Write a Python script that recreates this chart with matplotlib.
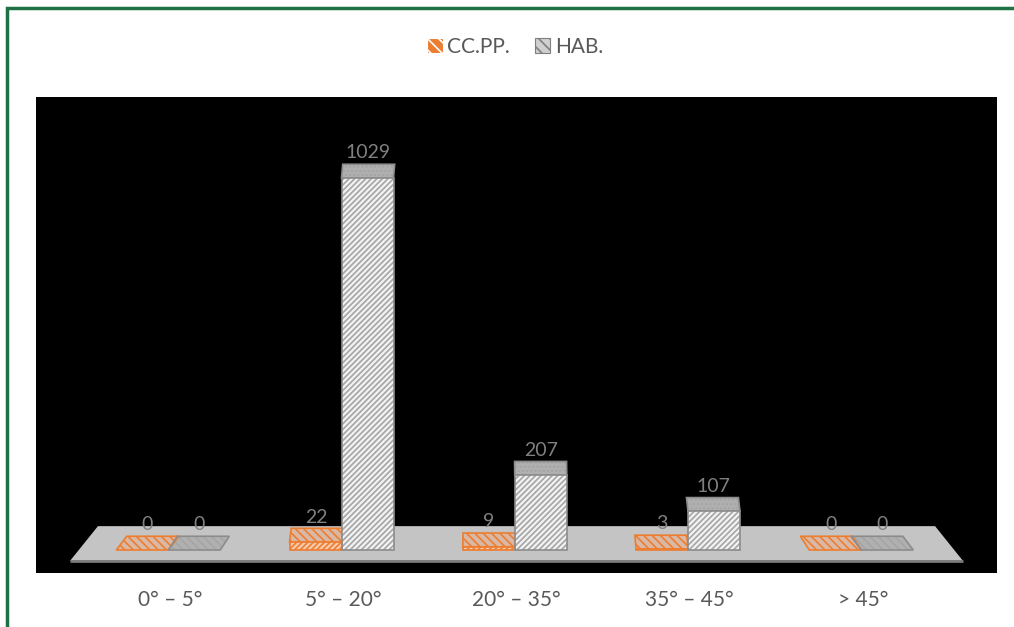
import numpy as np
import matplotlib
matplotlib.use('Agg')
import matplotlib.pyplot as plt
from matplotlib.patches import Polygon, Patch, Rectangle

plt.rcParams['font.family'] = ['Lato', 'DejaVu Sans']
plt.rcParams['hatch.linewidth'] = 1.2

# datos
categorias = ['0° – 5°', '5° – 20°', '20° – 35°', '35° – 45°', '> 45°']
ccpp = [0, 22, 9, 3, 0]
hab = [0, 1029, 207, 107, 0]

naranja = '#ED7D31'
gris = '#A5A5A5'

fig = plt.figure(figsize=(10.14, 6.27), dpi=100)
ax = fig.add_axes([36 / 1014, 1 - 573 / 627, 961 / 1014, 476 / 627])
ax.set_facecolor('black')
ax.set_xlim(-0.7735, 4.7734)
ax.set_ylim(-63.6, 1253)
for s in ax.spines.values():
    s.set_visible(False)
ax.set_yticks([])

# suelo (efecto 3D)
suelo = Polygon([(-0.577, -30), (4.577, -30), (4.416, 66), (-0.416, 66)],
                closed=True, facecolor='#C4C4C4', edgecolor='none', zorder=1)
ax.add_patch(suelo)
ax.plot([-0.577, 4.577], [-30, -30], color='#7a7a7a', lw=2, zorder=1.5,
        solid_capstyle='butt')

ancho = 0.30
prof = 38  # profundidad de la cara superior
x = np.arange(len(categorias))


def barra(x0, v, cara, rayado, borde, tapa, tapa_hatch):
    # desplazamiento de la cara superior por perspectiva
    k = 0.028 if v == 0 else 0.008
    dx = k * (2 - (x0 + ancho / 2))
    pts = [(x0, v), (x0 + ancho, v), (x0 + ancho + dx, v + prof), (x0 + dx, v + prof)]
    ax.add_patch(Polygon(pts, closed=True, facecolor=tapa, edgecolor=rayado, hatch=tapa_hatch,
                         linewidth=0, zorder=2))
    ax.add_patch(Polygon(pts, closed=True, fill=False, edgecolor=borde, linewidth=1.2, zorder=2.1))
    if v > 0:
        ax.bar(x0, v, width=ancho, align='edge', facecolor=cara, edgecolor=rayado,
               hatch='//////', linewidth=0, zorder=3)
        ax.bar(x0, v, width=ancho, align='edge', fill=False, edgecolor=borde,
               linewidth=1.2, zorder=3.1)
    ax.annotate(str(v), (x0 + ancho / 2 + dx / 2, v + prof), xytext=(0, 2),
                textcoords='offset points', ha='center', va='bottom',
                fontsize=14, color='#808080', zorder=5)


for i in range(len(categorias)):
    barra(x[i] - ancho - 0.01, ccpp[i], '#F8CBAD', naranja, naranja, '#D9B9A5', '\\\\\\\\')
    barra(x[i] - 0.01, hab[i], '#F2F2F2', gris, '#8C8C8C', '#B0B0B0',
          '\\\\\\\\' if hab[i] == 0 else '....')

ax.set_xticks(x, categorias)
ax.tick_params(axis='x', length=0, pad=12, labelsize=15, labelcolor='#595959')

# leyenda
manejadores = [Patch(facecolor=naranja, edgecolor='white', hatch='\\\\\\', linewidth=0.8),
               Patch(facecolor='#D0D0D0', edgecolor='#7F7F7F', hatch='\\\\\\', linewidth=0.8)]
fig.legend(manejadores, ['CC.PP.', 'HAB.'], loc='center', bbox_to_anchor=(0.508, 1 - 47 / 627),
           ncol=2, frameon=False, fontsize=15, handlelength=0.75, handleheight=0.75,
           handletextpad=0.2, columnspacing=1.2, labelcolor='#595959')

# borde verde
fig.patches.append(Rectangle((7 / 1014, -0.1), 1.2, 1.1 - 8 / 627, transform=fig.transFigure,
                             fill=False, edgecolor='#1E7145', linewidth=2.5))

fig.savefig('out.png', dpi=100)
